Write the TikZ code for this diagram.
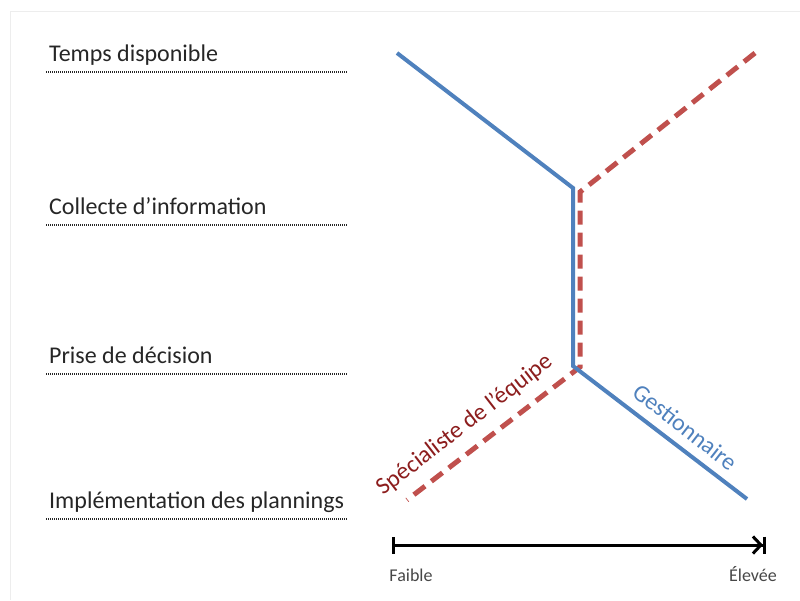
\documentclass[tikz,border=0pt]{standalone}
\usepackage{fontspec}
\setmainfont{Carlito}
\usepackage{xcolor}
\usetikzlibrary{arrows.meta}

\definecolor{chefblue}{HTML}{4F81BD}
\definecolor{specred}{HTML}{C0504D}
\definecolor{specdark}{HTML}{8C1D1D}
\definecolor{stagegray}{HTML}{262626}
\definecolor{framegray}{HTML}{EDEDED}

\begin{document}
\begin{tikzpicture}[x=1pt,y=-1pt,
    stage/.style={anchor=base west,inner sep=0pt,text=stagegray,font=\fontsize{24}{29}\selectfont},
    underline/.style={line width=1.3pt,dash pattern=on 1pt off 1pt,draw=stagegray},
    chef/.style={line width=4pt,draw=chefblue,line join=miter},
    spec/.style={line width=5pt,draw=specred,dash pattern=on 14pt off 8pt},
    endlabel/.style={anchor=base,inner sep=0pt,text=stagegray!85,font=\fontsize{18}{22}\selectfont},
    axis/.style={line width=3pt,{Bar[width=17pt,line width=3pt]}-{Straight Barb[length=8pt,width=17pt,line width=3pt]Bar[width=17pt,line width=3pt]}}]
        \useasboundingbox (0,0) rectangle (800,600);
        % frame
        \draw[framegray,line width=1pt] (10,600) -- (10,11) -- (800,11);
        % stages
        \foreach \y/\name/\txt in {61/tps/Temps disponible,214/col/Collecte d’information,363/pri/Prise de décision,508/imp/Implémentation des plannings} {
            \node [stage] (\name) at (49,\y) {\txt};
            \draw [underline] (46,\y+11) -- (348,\y+11);
        }
        % corners
        \coordinate (c1) at (397,53);
        \coordinate (c2) at (573,188);
        \coordinate (c3) at (573,366);
        \coordinate (c4) at (747,499);
        \coordinate (s1) at (755,53);
        \coordinate (s2) at (580,192);
        \coordinate (s3) at (580,367);
        \coordinate (s4) at (407,500);
        % paths
        \draw [spec] (s1) -- (s2) -- (s3) -- (s4);
        \draw [chef] (c1) -- (c2) -- (c3) -- (c4);
        \node [rotate=37.7,text=specdark,font=\fontsize{24}{29}\selectfont] (speclabel) at (465,425) {Spécialiste de l’équipe};
        \node [rotate=-38,text=chefblue,font=\fontsize{24}{29}\selectfont] (cheflabel) at (685,427) {Gestionnaire};
        % axis
        \coordinate (lo) at (392,545);
        \coordinate (hi) at (766,545);
        \draw [axis] (lo) -- (hi);
        \node [endlabel] (low) at (411,581) {Faible};
        \node [endlabel] (high) at (753,581) {Élevée};
    \end{tikzpicture}
\end{document}
